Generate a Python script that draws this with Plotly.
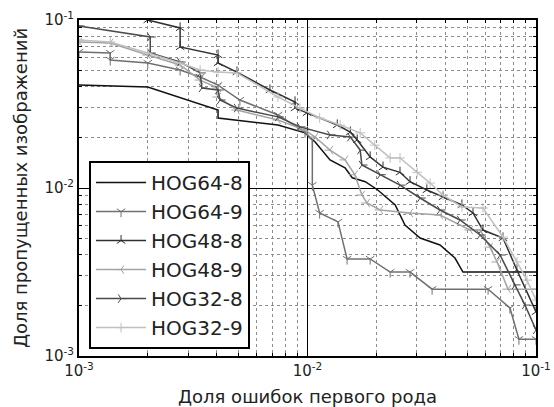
import plotly.graph_objects as go

# ---- data ----
series_names = ["HOG64-8", "HOG64-9", "HOG48-8", "HOG48-9", "HOG32-8", "HOG32-9"]

hog64_8_x = [0.001, 0.002, 0.00406, 0.00406, 0.00743, 0.00975, 0.0108, 0.01255, 0.0146, 0.0157,
             0.0179, 0.0203, 0.0242, 0.0267, 0.0311, 0.038, 0.0442, 0.0479, 0.1]
hog64_8_y = [0.041, 0.0399, 0.0291, 0.0261, 0.0237, 0.0213, 0.0188, 0.0147, 0.0132, 0.0115,
             0.0109, 0.00973, 0.00792, 0.00602, 0.00504, 0.00458, 0.00383, 0.00316, 0.00316]

hog64_9_x = [0.001, 0.00137, 0.00137, 0.002, 0.00277, 0.00339, 0.00406, 0.00506, 0.00743, 0.00975,
             0.0105, 0.0105, 0.0113, 0.0136, 0.0149, 0.0188, 0.023, 0.0281, 0.0351, 0.0617,
             0.0769, 0.0842, 0.1]
hog64_9_y = [0.0645, 0.0636, 0.0578, 0.0555, 0.0504, 0.0458, 0.041, 0.0334, 0.0272, 0.0215,
             0.0193, 0.0104, 0.0071, 0.00628, 0.00378, 0.00378, 0.00316, 0.00316, 0.0025, 0.0025,
             0.00193, 0.00126, 0.00126]

hog48_8_x = [0.001, 0.002, 0.00277, 0.00277, 0.00406, 0.00406, 0.00491, 0.00685, 0.00882, 0.00882,
             0.00995, 0.0135, 0.0154, 0.0165, 0.0188, 0.0214, 0.0254, 0.0281, 0.0333, 0.0392,
             0.0474, 0.053, 0.0586, 0.0717, 0.0825, 0.1]
hog48_8_y = [0.141, 0.1, 0.0897, 0.0691, 0.0619, 0.0555, 0.049, 0.0383, 0.0325, 0.0299,
             0.028, 0.0237, 0.0215, 0.0193, 0.0153, 0.0133, 0.0124, 0.0109, 0.00973, 0.00884,
             0.00792, 0.0071, 0.00562, 0.00504, 0.00325, 0.00183]

hog48_9_x = [0.001, 0.00137, 0.002, 0.00277, 0.00339, 0.00406, 0.00406, 0.00491, 0.00743, 0.00975,
             0.0108, 0.01255, 0.0146, 0.0161, 0.0173, 0.0182, 0.0208, 0.0281, 0.038, 0.0514,
             0.0569, 0.0629, 0.0675, 0.0754, 0.1]
hog48_9_y = [0.074, 0.073, 0.0619, 0.054, 0.0439, 0.0394, 0.0348, 0.0291, 0.0254, 0.0221,
             0.0201, 0.0168, 0.0147, 0.012, 0.00908, 0.00814, 0.0074, 0.0071, 0.0069, 0.00562,
             0.00562, 0.00445, 0.00363, 0.0025, 0.0025]

hog32_8_x = [0.001, 0.00205, 0.00205, 0.00277, 0.00339, 0.00345, 0.00406, 0.00414, 0.00491, 0.00743,
             0.00927, 0.01255, 0.0154, 0.017, 0.0173, 0.0208, 0.0254, 0.0311, 0.038, 0.0465,
             0.0569, 0.0696, 0.0809, 0.0895, 0.1]
hog32_8_y = [0.0921, 0.0792, 0.0636, 0.0562, 0.0484, 0.0394, 0.0383, 0.0334, 0.0299, 0.0265,
             0.0231, 0.0207, 0.0201, 0.0168, 0.0137, 0.012, 0.0104, 0.00872, 0.0074, 0.00645,
             0.00525, 0.00399, 0.00265, 0.00201, 0.00143]

hog32_9_x = [0.001, 0.00137, 0.002, 0.00277, 0.00339, 0.00406, 0.00491, 0.00743, 0.00927, 0.0113,
             0.0139, 0.017, 0.0197, 0.023, 0.0254, 0.0302, 0.0344, 0.0392, 0.0474, 0.0586,
             0.0717, 0.0825, 0.0913, 0.1]
hog32_9_y = [0.076, 0.074, 0.0636, 0.0555, 0.0504, 0.049, 0.0484, 0.0348, 0.0299, 0.0261,
             0.0237, 0.0213, 0.018, 0.0151, 0.0151, 0.0124, 0.0107, 0.00908, 0.00771, 0.0076,
             0.00511, 0.00363, 0.00283, 0.00215]

major_ticks = [0.001, 0.01, 0.1]
major_labels = ["10<sup>-3</sup>", "10<sup>-2</sup>", "10<sup>-1</sup>"]
minor_ticks = [m * d for d in (0.001, 0.01) for m in range(2, 10)]

x_title = "Доля ошибок первого рода"
y_title = "Доля пропущенных изображений"

# ---- styles ----
styles = [
    dict(color="#111111", symbol=None),
    dict(color="#707070", symbol="y-down-open"),
    dict(color="#303030", symbol="y-up-open"),
    dict(color="#a4a4a4", symbol="y-left-open"),
    dict(color="#4a4a4a", symbol="y-right-open"),
    dict(color="#c0c0c0", symbol="cross-thin-open"),
]
xs = [hog64_8_x, hog64_9_x, hog48_8_x, hog48_9_x, hog32_8_x, hog32_9_x]
ys = [hog64_8_y, hog64_9_y, hog48_8_y, hog48_9_y, hog32_8_y, hog32_9_y]

fig = go.Figure()
for name, x, y, st in zip(series_names, xs, ys, styles):
    if st["symbol"] is None:
        mode = "lines"
        marker = None
    else:
        mode = "lines+markers"
        marker = dict(symbol=st["symbol"], size=7, color=st["color"],
                      line=dict(color=st["color"], width=1))
    fig.add_trace(go.Scatter(x=x, y=y, name=name, mode=mode,
                             line=dict(color=st["color"], width=1.5),
                             marker=marker, cliponaxis=True))

font_family = "DejaVu Sans"
axis_common = dict(
    type="log", range=[-3, -1], automargin=False,
    tickvals=major_ticks, ticktext=major_labels,
    ticks="inside", ticklen=6, tickcolor="black",
    showline=True, linecolor="black", linewidth=2, mirror="allticks",
    showgrid=True, gridcolor="black", gridwidth=1,
    zeroline=False,
    tickfont=dict(family=font_family, size=15, color="#222222"),
    minor=dict(tickvals=minor_ticks, ticks="inside", ticklen=3, tickcolor="black",
               showgrid=True, gridcolor="#8c8c8c", griddash="dot", gridwidth=1),
)

fig.update_layout(
    width=554, height=407,
    margin=dict(l=79, r=18, t=20, b=51, autoexpand=False),
    paper_bgcolor="white", plot_bgcolor="white",
    font=dict(family=font_family, color="#222222"),
    xaxis=dict(**axis_common,
               title=dict(text=x_title, font=dict(family=font_family, size=18, color="#222222"),
                          standoff=12)),
    yaxis=dict(**axis_common,
               title=dict(text=y_title, font=dict(family=font_family, size=18, color="#222222"),
                          standoff=12)),
    legend=dict(x=0.022, y=0.58, xanchor="left", yanchor="top",
                bgcolor="white", bordercolor="black", borderwidth=2,
                font=dict(family=font_family, size=20, color="#222222"),
                itemwidth=50, tracegroupgap=0),
    showlegend=True,
)

fig.write_html("out.html")
